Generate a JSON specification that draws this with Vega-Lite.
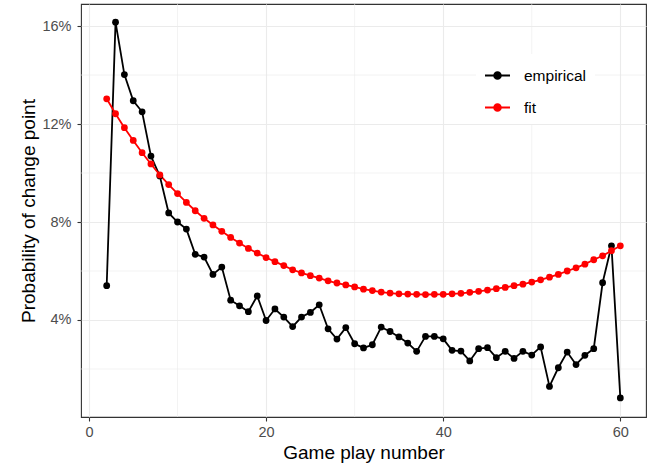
{
  "$schema": "https://vega.github.io/schema/vega-lite/v6.json",
  "width": 565,
  "height": 413,
  "autosize": {"type": "none"},
  "padding": {"left": 81, "top": 4, "right": 3, "bottom": 48},
  "background": "white",
  "config": {
    "font": "Liberation Sans",
    "view": {"stroke": "#333333", "strokeWidth": 1.1},
    "axis": {
      "domain": false,
      "labelFontSize": 14.5,
      "labelColor": "#4D4D4D",
      "titleFontSize": 19,
      "titleFontWeight": "normal",
      "titleColor": "#000000",
      "tickColor": "#333333",
      "tickSize": 4,
      "tickWidth": 1.1,
      "gridColor": "#EBEBEB",
      "gridWidth": 1.1
    }
  },
  "datasets": {
    "changepoints": [
      {"play": 2, "prob": 0.0540, "series": "empirical"},
      {"play": 3, "prob": 0.1616, "series": "empirical"},
      {"play": 4, "prob": 0.1402, "series": "empirical"},
      {"play": 5, "prob": 0.1295, "series": "empirical"},
      {"play": 6, "prob": 0.1250, "series": "empirical"},
      {"play": 7, "prob": 0.1069, "series": "empirical"},
      {"play": 8, "prob": 0.0988, "series": "empirical"},
      {"play": 9, "prob": 0.0837, "series": "empirical"},
      {"play": 10, "prob": 0.0800, "series": "empirical"},
      {"play": 11, "prob": 0.0771, "series": "empirical"},
      {"play": 12, "prob": 0.0668, "series": "empirical"},
      {"play": 13, "prob": 0.0657, "series": "empirical"},
      {"play": 14, "prob": 0.0586, "series": "empirical"},
      {"play": 15, "prob": 0.0616, "series": "empirical"},
      {"play": 16, "prob": 0.0481, "series": "empirical"},
      {"play": 17, "prob": 0.0458, "series": "empirical"},
      {"play": 18, "prob": 0.0434, "series": "empirical"},
      {"play": 19, "prob": 0.0498, "series": "empirical"},
      {"play": 20, "prob": 0.0398, "series": "empirical"},
      {"play": 21, "prob": 0.0445, "series": "empirical"},
      {"play": 22, "prob": 0.0412, "series": "empirical"},
      {"play": 23, "prob": 0.0373, "series": "empirical"},
      {"play": 24, "prob": 0.0412, "series": "empirical"},
      {"play": 25, "prob": 0.0431, "series": "empirical"},
      {"play": 26, "prob": 0.0462, "series": "empirical"},
      {"play": 27, "prob": 0.0364, "series": "empirical"},
      {"play": 28, "prob": 0.0322, "series": "empirical"},
      {"play": 29, "prob": 0.0369, "series": "empirical"},
      {"play": 30, "prob": 0.0303, "series": "empirical"},
      {"play": 31, "prob": 0.0286, "series": "empirical"},
      {"play": 32, "prob": 0.0299, "series": "empirical"},
      {"play": 33, "prob": 0.0371, "series": "empirical"},
      {"play": 34, "prob": 0.0353, "series": "empirical"},
      {"play": 35, "prob": 0.0331, "series": "empirical"},
      {"play": 36, "prob": 0.0306, "series": "empirical"},
      {"play": 37, "prob": 0.0272, "series": "empirical"},
      {"play": 38, "prob": 0.0333, "series": "empirical"},
      {"play": 39, "prob": 0.0333, "series": "empirical"},
      {"play": 40, "prob": 0.0323, "series": "empirical"},
      {"play": 41, "prob": 0.0276, "series": "empirical"},
      {"play": 42, "prob": 0.0273, "series": "empirical"},
      {"play": 43, "prob": 0.0233, "series": "empirical"},
      {"play": 44, "prob": 0.0283, "series": "empirical"},
      {"play": 45, "prob": 0.0287, "series": "empirical"},
      {"play": 46, "prob": 0.0246, "series": "empirical"},
      {"play": 47, "prob": 0.0272, "series": "empirical"},
      {"play": 48, "prob": 0.0243, "series": "empirical"},
      {"play": 49, "prob": 0.0272, "series": "empirical"},
      {"play": 50, "prob": 0.0257, "series": "empirical"},
      {"play": 51, "prob": 0.0290, "series": "empirical"},
      {"play": 52, "prob": 0.0129, "series": "empirical"},
      {"play": 53, "prob": 0.0205, "series": "empirical"},
      {"play": 54, "prob": 0.0269, "series": "empirical"},
      {"play": 55, "prob": 0.0218, "series": "empirical"},
      {"play": 56, "prob": 0.0256, "series": "empirical"},
      {"play": 57, "prob": 0.0283, "series": "empirical"},
      {"play": 58, "prob": 0.0552, "series": "empirical"},
      {"play": 59, "prob": 0.0703, "series": "empirical"},
      {"play": 60, "prob": 0.0082, "series": "empirical"},
      {"play": 2, "prob": 0.1303, "series": "fit"},
      {"play": 3, "prob": 0.1242, "series": "fit"},
      {"play": 4, "prob": 0.1185, "series": "fit"},
      {"play": 5, "prob": 0.1133, "series": "fit"},
      {"play": 6, "prob": 0.1083, "series": "fit"},
      {"play": 7, "prob": 0.1037, "series": "fit"},
      {"play": 8, "prob": 0.0992, "series": "fit"},
      {"play": 9, "prob": 0.0953, "series": "fit"},
      {"play": 10, "prob": 0.0916, "series": "fit"},
      {"play": 11, "prob": 0.0880, "series": "fit"},
      {"play": 12, "prob": 0.0846, "series": "fit"},
      {"play": 13, "prob": 0.0815, "series": "fit"},
      {"play": 14, "prob": 0.0788, "series": "fit"},
      {"play": 15, "prob": 0.0762, "series": "fit"},
      {"play": 16, "prob": 0.0737, "series": "fit"},
      {"play": 17, "prob": 0.0714, "series": "fit"},
      {"play": 18, "prob": 0.0692, "series": "fit"},
      {"play": 19, "prob": 0.0673, "series": "fit"},
      {"play": 20, "prob": 0.0655, "series": "fit"},
      {"play": 21, "prob": 0.0638, "series": "fit"},
      {"play": 22, "prob": 0.0622, "series": "fit"},
      {"play": 23, "prob": 0.0605, "series": "fit"},
      {"play": 24, "prob": 0.0592, "series": "fit"},
      {"play": 25, "prob": 0.0581, "series": "fit"},
      {"play": 26, "prob": 0.0571, "series": "fit"},
      {"play": 27, "prob": 0.0560, "series": "fit"},
      {"play": 28, "prob": 0.0551, "series": "fit"},
      {"play": 29, "prob": 0.0543, "series": "fit"},
      {"play": 30, "prob": 0.0535, "series": "fit"},
      {"play": 31, "prob": 0.0526, "series": "fit"},
      {"play": 32, "prob": 0.0520, "series": "fit"},
      {"play": 33, "prob": 0.0514, "series": "fit"},
      {"play": 34, "prob": 0.0510, "series": "fit"},
      {"play": 35, "prob": 0.0507, "series": "fit"},
      {"play": 36, "prob": 0.0506, "series": "fit"},
      {"play": 37, "prob": 0.0505, "series": "fit"},
      {"play": 38, "prob": 0.0504, "series": "fit"},
      {"play": 39, "prob": 0.0505, "series": "fit"},
      {"play": 40, "prob": 0.0505, "series": "fit"},
      {"play": 41, "prob": 0.0507, "series": "fit"},
      {"play": 42, "prob": 0.0509, "series": "fit"},
      {"play": 43, "prob": 0.0513, "series": "fit"},
      {"play": 44, "prob": 0.0517, "series": "fit"},
      {"play": 45, "prob": 0.0522, "series": "fit"},
      {"play": 46, "prob": 0.0528, "series": "fit"},
      {"play": 47, "prob": 0.0533, "series": "fit"},
      {"play": 48, "prob": 0.0540, "series": "fit"},
      {"play": 49, "prob": 0.0546, "series": "fit"},
      {"play": 50, "prob": 0.0555, "series": "fit"},
      {"play": 51, "prob": 0.0564, "series": "fit"},
      {"play": 52, "prob": 0.0575, "series": "fit"},
      {"play": 53, "prob": 0.0586, "series": "fit"},
      {"play": 54, "prob": 0.0600, "series": "fit"},
      {"play": 55, "prob": 0.0613, "series": "fit"},
      {"play": 56, "prob": 0.0628, "series": "fit"},
      {"play": 57, "prob": 0.0646, "series": "fit"},
      {"play": 58, "prob": 0.0662, "series": "fit"},
      {"play": 59, "prob": 0.0683, "series": "fit"},
      {"play": 60, "prob": 0.0703, "series": "fit"}
    ],
    "minorX": [{"v": 10}, {"v": 30}, {"v": 50}],
    "minorY": [{"v": 0.02}, {"v": 0.06}, {"v": 0.10}, {"v": 0.14}]
  },
  "layer": [
    {
      "data": {"name": "minorX"},
      "mark": {"type": "rule", "color": "#EBEBEB", "strokeWidth": 0.6},
      "encoding": {
        "x": {
          "field": "v", "type": "quantitative",
          "scale": {"domain": [-0.9, 62.9], "nice": false, "zero": false},
          "axis": {"title": "Game play number", "values": [0, 20, 40, 60], "labelPadding": 4, "titlePadding": 5}
        }
      }
    },
    {
      "data": {"name": "minorY"},
      "mark": {"type": "rule", "color": "#EBEBEB", "strokeWidth": 0.6},
      "encoding": {
        "y": {
          "field": "v", "type": "quantitative",
          "scale": {"domain": [0.0004, 0.169], "nice": false, "zero": false},
          "axis": {"title": "Probability of change point", "values": [0.04, 0.08, 0.12, 0.16], "format": ".0%", "labelPadding": 6, "titlePadding": 3}
        }
      }
    },
    {
      "data": {"name": "changepoints"},
      "mark": {"type": "line", "strokeWidth": 1.8},
      "encoding": {
        "x": {
          "field": "play", "type": "quantitative",
          "scale": {"domain": [-0.9, 62.9], "nice": false, "zero": false},
          "axis": {"title": "Game play number", "values": [0, 20, 40, 60], "labelPadding": 4, "titlePadding": 5}
        },
        "y": {
          "field": "prob", "type": "quantitative",
          "scale": {"domain": [0.0004, 0.169], "nice": false, "zero": false},
          "axis": {"title": "Probability of change point", "values": [0.04, 0.08, 0.12, 0.16], "format": ".0%", "labelPadding": 6, "titlePadding": 3}
        },
        "color": {
          "field": "series", "type": "nominal",
          "scale": {"domain": ["empirical", "fit"], "range": ["#000000", "#FF0000"]},
          "legend": {
            "title": null,
            "orient": "none",
            "legendX": 395,
            "legendY": 50,
            "padding": 8,
            "fillColor": "white",
            "symbolType": "M-1,0L1,0M-0.27,0A0.27,0.27,0,1,1,0.27,0A0.27,0.27,0,1,1,-0.27,0Z",
            "symbolSize": 625,
            "symbolStrokeWidth": 1.8,
            "labelFontSize": 15.5,
            "labelColor": "#000000",
            "labelOffset": 13,
            "rowPadding": 10,
            "encode": {
              "symbols": {
                "update": {
                  "fill": {"scale": "color", "field": "value"},
                  "stroke": {"scale": "color", "field": "value"},
                  "opacity": {"value": 1}
                }
              }
            }
          }
        },
        "detail": {"field": "series"}
      }
    },
    {
      "data": {"name": "changepoints"},
      "mark": {"type": "point", "filled": true, "opacity": 1, "size": 46},
      "encoding": {
        "x": {
          "field": "play", "type": "quantitative",
          "scale": {"domain": [-0.9, 62.9], "nice": false, "zero": false},
          "axis": {"title": "Game play number", "values": [0, 20, 40, 60], "labelPadding": 4, "titlePadding": 5}
        },
        "y": {
          "field": "prob", "type": "quantitative",
          "scale": {"domain": [0.0004, 0.169], "nice": false, "zero": false},
          "axis": {"title": "Probability of change point", "values": [0.04, 0.08, 0.12, 0.16], "format": ".0%", "labelPadding": 6, "titlePadding": 3}
        },
        "color": {"field": "series", "type": "nominal", "scale": {"domain": ["empirical", "fit"], "range": ["#000000", "#FF0000"]}}
      }
    }
  ]
}
